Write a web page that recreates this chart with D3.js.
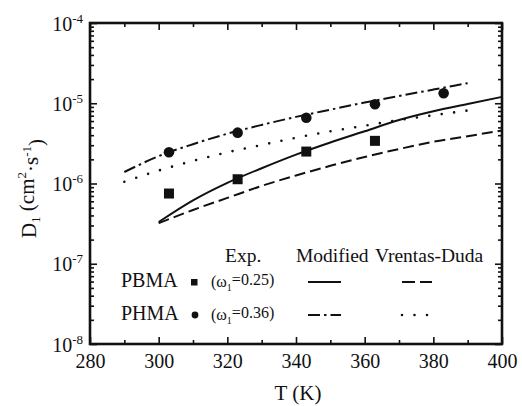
<!DOCTYPE html>
<html>
<head>
<meta charset="utf-8">
<script src="https://cdn.jsdelivr.net/npm/d3@7"></script>
<style>
  html, body { margin: 0; padding: 0; background: #fff; }
  svg { display: block; }
  svg text, svg tspan { font-family: "Liberation Serif" !important; }
</style>
</head>
<body>
<svg id="chart" width="522" height="406"></svg>
<script>
// ---- data ----
const xTicks = [280, 300, 320, 340, 360, 380, 400];
const xMinorTicks = [290, 310, 330, 350, 370, 390];
const yTickExponents = [-8, -7, -6, -5, -4];

// Experimental points
const pbmaExpT = [303, 323, 343, 363];
const pbmaExpD = [7.5e-7, 1.13e-6, 2.5e-6, 3.4e-6];
const phmaExpT = [303, 323, 343, 363, 383];
const phmaExpD = [2.45e-6, 4.3e-6, 6.6e-6, 9.7e-6, 1.33e-5];

// Modified model curves
const pbmaModT = [300, 310, 320, 330, 340, 350, 360, 370, 380, 390, 400];
const pbmaModD = [3.31e-7, 6.17e-7, 1.02e-6, 1.55e-6, 2.29e-6, 3.24e-6, 4.47e-6, 6.17e-6, 7.94e-6, 9.77e-6, 1.20e-5];
const phmaModT = [290, 300, 310, 320, 330, 340, 350, 360, 370, 380, 390];
const phmaModD = [1.39e-6, 2.19e-6, 3.09e-6, 4.17e-6, 5.37e-6, 6.76e-6, 8.32e-6, 1.02e-5, 1.23e-5, 1.48e-5, 1.78e-5];

// Vrentas-Duda curves
const pbmaVdT = [300, 310, 320, 330, 340, 350, 360, 370, 380, 390, 400];
const pbmaVdD = [3.20e-7, 4.68e-7, 6.61e-7, 9.33e-7, 1.26e-6, 1.66e-6, 2.14e-6, 2.69e-6, 3.31e-6, 3.89e-6, 4.57e-6];
const phmaVdT = [290, 300, 310, 320, 330, 340, 350, 360, 370, 380, 390];
const phmaVdD = [1.05e-6, 1.45e-6, 1.91e-6, 2.45e-6, 3.02e-6, 3.72e-6, 4.47e-6, 5.25e-6, 6.17e-6, 7.08e-6, 8.13e-6];

// ---- layout ----
const FONT = "Liberation Serif";
const svg = d3.select("#chart").style("font-family", FONT);
const L = 90, R = 502, T = 23, B = 344;
const x = d3.scaleLinear().domain([280, 400]).range([L, R]);
const y = d3.scaleLog().domain([1e-8, 1e-4]).range([B, T]);

const yMajor = yTickExponents.map(e => Math.pow(10, e));
const yMinor = [];
for (let e = -8; e < -4; e++) for (let m = 2; m <= 9; m++) yMinor.push(m * Math.pow(10, e));

const axisStyle = g => {
  g.attr("font-family", FONT);
  g.select(".domain").remove();
  g.selectAll(".tick line").attr("stroke", "#111").attr("stroke-width", 1.6);
};

// minor ticks
svg.append("g").attr("transform", `translate(0,${B})`)
  .call(d3.axisBottom(x).tickValues(xMinorTicks).tickSize(-4).tickFormat(""))
  .call(axisStyle);
svg.append("g").attr("transform", `translate(0,${T})`)
  .call(d3.axisTop(x).tickValues(xMinorTicks).tickSize(-4).tickFormat(""))
  .call(axisStyle);
svg.append("g").attr("transform", `translate(${L},0)`)
  .call(d3.axisLeft(y).tickValues(yMinor).tickSize(-4).tickFormat(""))
  .call(axisStyle);
svg.append("g").attr("transform", `translate(${R},0)`)
  .call(d3.axisRight(y).tickValues(yMinor).tickSize(-4).tickFormat(""))
  .call(axisStyle);

// major ticks
const gx = svg.append("g").attr("transform", `translate(0,${B})`)
  .call(d3.axisBottom(x).tickValues(xTicks).tickSize(-7).tickPadding(10).tickFormat(d3.format("d")))
  .call(axisStyle);
gx.selectAll("text").attr("font-size", 20).style("font-family", FONT).attr("fill", "#111");

svg.append("g").attr("transform", `translate(0,${T})`)
  .call(d3.axisTop(x).tickValues(xTicks).tickSize(-7).tickFormat(""))
  .call(axisStyle);

const gy = svg.append("g").attr("transform", `translate(${L},0)`)
  .call(d3.axisLeft(y).tickValues(yMajor).tickSize(-7).tickPadding(7).tickFormat(""))
  .call(axisStyle);
gy.selectAll(".tick text").each(function(d) {
  const t = d3.select(this);
  t.text(null).attr("font-size", 20).style("font-family", FONT).attr("fill", "#111")
   .attr("text-anchor", "end").attr("dy", "0.35em");
  t.append("tspan").text("10");
  t.append("tspan").attr("font-size", 13).attr("dy", "-0.6em").text(String(Math.round(Math.log10(d))));
});

svg.append("g").attr("transform", `translate(${R},0)`)
  .call(d3.axisRight(y).tickValues(yMajor).tickSize(-7).tickFormat(""))
  .call(axisStyle);

// frame
svg.append("rect").attr("x", L).attr("y", T).attr("width", R - L).attr("height", B - T)
  .attr("fill", "none").attr("stroke", "#111").attr("stroke-width", 2.6);

// ---- curves ----
const line = d3.line().x(d => x(d[0])).y(d => y(d[1])).curve(d3.curveMonotoneX);
const zip = (a, b) => a.map((v, i) => [v, b[i]]);

const styles = {
  solid:   { dash: null,          width: 2,   cap: "butt" },
  dashed:  { dash: "11,5",        width: 2,   cap: "butt" },
  dashdot: { dash: "12,4,2.5,4",  width: 2,   cap: "butt" },
  dotted:  { dash: "0,12.5",      width: 2.6, cap: "round" }
};
const plotG = svg.append("g");
function drawCurve(T_, D_, st) {
  const p = plotG.append("path").datum(zip(T_, D_))
    .attr("d", line).attr("fill", "none").attr("stroke", "#111")
    .attr("stroke-width", st.width).attr("stroke-linecap", st.cap);
  if (st.dash) p.attr("stroke-dasharray", st.dash);
}
drawCurve(pbmaModT, pbmaModD, styles.solid);
drawCurve(pbmaVdT, pbmaVdD, styles.dashed);
drawCurve(phmaModT, phmaModD, styles.dashdot);
drawCurve(phmaVdT, phmaVdD, styles.dotted);

// markers
plotG.selectAll(".sq").data(zip(pbmaExpT, pbmaExpD)).join("rect")
  .attr("x", d => x(d[0]) - 5).attr("y", d => y(d[1]) - 5)
  .attr("width", 10).attr("height", 10).attr("fill", "#111");
plotG.selectAll(".ci").data(zip(phmaExpT, phmaExpD)).join("circle")
  .attr("cx", d => x(d[0])).attr("cy", d => y(d[1])).attr("r", 5.3).attr("fill", "#111");

// ---- axis titles ----
svg.append("text").attr("x", (L + R) / 2 + 2).attr("y", 400).attr("text-anchor", "middle")
  .attr("font-size", 21).attr("fill", "#111").style("font-family", FONT).text("T (K)");

const yt = svg.append("text").attr("transform", `translate(36,${(T + B) / 2 + 5}) rotate(-90)`)
  .attr("text-anchor", "middle").attr("font-size", 21).attr("fill", "#111").style("font-family", FONT);
yt.append("tspan").text("D");
yt.append("tspan").attr("font-size", 13).attr("dy", "0.3em").text("1");
yt.append("tspan").attr("dy", "-0.3em").text(" (cm");
yt.append("tspan").attr("font-size", 13).attr("dy", "-0.6em").text("2");
yt.append("tspan").attr("dy", "0.6em").text("·s");
yt.append("tspan").attr("font-size", 13).attr("dy", "-0.6em").text("-1");
yt.append("tspan").attr("dy", "0.6em").text(")");

// ---- legend ----
const lg = svg.append("g").attr("fill", "#111").style("font-family", FONT);
const hdr = (xp, s) => lg.append("text").attr("x", xp).attr("y", 262).attr("font-size", 19.5)
  .style("font-family", FONT).text(s);
hdr(225, "Exp.");
hdr(296, "Modified");
hdr(375, "Vrentas-Duda");

const rows = [
  { name: "PBMA", w: "0.25", yb: 287, marker: "square", mod: styles.solid, vd: styles.dashed },
  { name: "PHMA", w: "0.36", yb: 320, marker: "circle", mod: styles.dashdot, vd: styles.dotted }
];
rows.forEach(r => {
  lg.append("text").attr("x", 121).attr("y", r.yb).attr("font-size", 20).style("font-family", FONT).text(r.name);
  const cy = r.yb - 5;
  if (r.marker === "square") {
    lg.append("rect").attr("x", 191).attr("y", cy - 3).attr("width", 6.5).attr("height", 6.5).attr("fill", "#111");
  } else {
    lg.append("circle").attr("cx", 195).attr("cy", cy).attr("r", 3.4).attr("fill", "#111");
  }
  const t = lg.append("text").attr("x", 211).attr("y", r.yb).attr("font-size", 16).style("font-family", FONT);
  t.append("tspan").text("(ω");
  t.append("tspan").attr("font-size", 10).attr("dy", "0.4em").text("1");
  t.append("tspan").attr("dy", "-0.4em").text("=" + r.w + ")");
  [[r.mod, 308, 341], [r.vd, 402, 432]].forEach(([st, x1, x2]) => {
    const l = lg.append("line").attr("x1", x1).attr("x2", x2).attr("y1", cy).attr("y2", cy)
      .attr("stroke", "#111").attr("stroke-width", st.width).attr("stroke-linecap", st.cap);
    if (st.dash) l.attr("stroke-dasharray", st === styles.dashed ? "13,5" : st.dash);
  });
});
</script>
</body>
</html>
